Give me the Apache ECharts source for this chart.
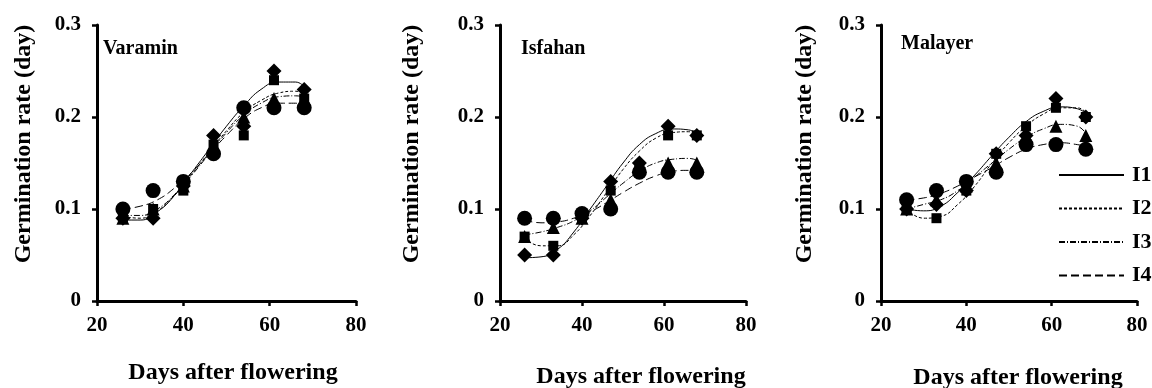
<!DOCTYPE html>
<html>
<head>
<meta charset="utf-8">
<script src="https://cdn.jsdelivr.net/npm/echarts@6/dist/echarts.min.js"></script>
<style>
  html, body { margin: 0; padding: 0; background: #fff; }
  #chart { width: 1152px; height: 388px; }
</style>
</head>
<body>
<div id="chart"></div>
<script>
// sampling days (x) for the measured points
const days = [26, 33, 40, 47, 54, 61, 68];
const fitDays = [26, 30, 34, 38, 42, 46, 50, 54, 58, 62, 66, 68];

const sites = ["Varamin", "Isfahan", "Malayer"];
const treatments = ["I1", "I2", "I3", "I4"];

// measured germination rate, Varamin
const varaminI1 = [0.09, 0.09, 0.125, 0.18, 0.19, 0.25, 0.23];
const varaminI2 = [0.09, 0.10, 0.12, 0.17, 0.18, 0.24, 0.22];
const varaminI3 = [0.09, 0.10, 0.125, 0.17, 0.20, 0.22, 0.22];
const varaminI4 = [0.10, 0.12, 0.13, 0.16, 0.21, 0.21, 0.21];
// measured, Isfahan
const isfahanI1 = [0.05, 0.05, 0.09, 0.13, 0.15, 0.19, 0.18];
const isfahanI2 = [0.07, 0.06, 0.09, 0.12, 0.145, 0.18, 0.18];
const isfahanI3 = [0.07, 0.08, 0.09, 0.11, 0.15, 0.15, 0.15];
const isfahanI4 = [0.09, 0.09, 0.095, 0.10, 0.14, 0.14, 0.14];
// measured, Malayer
const malayerI1 = [0.10, 0.105, 0.12, 0.16, 0.18, 0.22, 0.20];
const malayerI2 = [0.10, 0.09, 0.12, 0.16, 0.19, 0.21, 0.20];
const malayerI3 = [0.10, 0.11, 0.125, 0.15, 0.18, 0.19, 0.18];
const malayerI4 = [0.11, 0.12, 0.13, 0.14, 0.17, 0.17, 0.165];

// trend curves (at fitDays)
const varaminFitI1 = [0.088, 0.088, 0.097, 0.115, 0.14, 0.165, 0.19, 0.212, 0.23, 0.238, 0.238, 0.233];
const varaminFitI2 = [0.092, 0.09, 0.098, 0.115, 0.138, 0.162, 0.185, 0.205, 0.218, 0.226, 0.228, 0.227];
const varaminFitI3 = [0.093, 0.093, 0.10, 0.116, 0.137, 0.16, 0.183, 0.202, 0.215, 0.222, 0.223, 0.222];
const varaminFitI4 = [0.10, 0.103, 0.11, 0.123, 0.14, 0.16, 0.18, 0.198, 0.21, 0.215, 0.215, 0.213];
const isfahanFitI1 = [0.047, 0.048, 0.056, 0.075, 0.10, 0.125, 0.15, 0.17, 0.182, 0.187, 0.186, 0.182];
const isfahanFitI2 = [0.068, 0.06, 0.06, 0.072, 0.093, 0.118, 0.143, 0.163, 0.177, 0.183, 0.184, 0.181];
const isfahanFitI3 = [0.072, 0.075, 0.08, 0.087, 0.098, 0.113, 0.128, 0.141, 0.15, 0.154, 0.155, 0.153];
const isfahanFitI4 = [0.088, 0.085, 0.086, 0.09, 0.097, 0.107, 0.118, 0.128, 0.136, 0.141, 0.142, 0.142];
const malayerFitI1 = [0.10, 0.098, 0.103, 0.118, 0.137, 0.158, 0.178, 0.195, 0.206, 0.211, 0.209, 0.204];
const malayerFitI2 = [0.10, 0.09, 0.092, 0.105, 0.125, 0.15, 0.172, 0.19, 0.203, 0.21, 0.21, 0.205];
const malayerFitI3 = [0.10, 0.105, 0.11, 0.12, 0.135, 0.15, 0.165, 0.178, 0.187, 0.192, 0.19, 0.182];
const malayerFitI4 = [0.11, 0.112, 0.117, 0.125, 0.135, 0.145, 0.156, 0.165, 0.17, 0.172, 0.17, 0.168];

const xTicks = [20, 40, 60, 80];
const yTicks = [0, 0.1, 0.2, 0.3];

const measured = [
  [varaminI1, varaminI2, varaminI3, varaminI4],
  [isfahanI1, isfahanI2, isfahanI3, isfahanI4],
  [malayerI1, malayerI2, malayerI3, malayerI4]
];
const fitted = [
  [varaminFitI1, varaminFitI2, varaminFitI3, varaminFitI4],
  [isfahanFitI1, isfahanFitI2, isfahanFitI3, isfahanFitI4],
  [malayerFitI1, malayerFitI2, malayerFitI3, malayerFitI4]
];

const FONT = "Liberation Serif";
const symbols = ["diamond", "rect", "triangle", "circle"];
const symbolSizes = [15, 10, 13, 15];
const dashes = ["solid", [3, 2], [6, 2, 1, 2], [8, 4]];

// panel boxes in pixels
const grids = [
  { left: 97, width: 259, top: 25, height: 276 },
  { left: 500, width: 246, top: 25, height: 276 },
  { left: 881, width: 256, top: 25, height: 276 }
];
const xTitleX = [233, 641, 1018];
const xTitleY = [373, 377, 378];
const yTitleX = [24, 412, 805];
const siteLabelPos = [[103, 49], [521, 49], [901, 44]];

const axisLine = { lineStyle: { color: "#000", width: 3 } };
const axisTick = { lineStyle: { color: "#000", width: 2.5 }, length: 5 };
const tickLabel = { color: "#000", fontFamily: FONT, fontWeight: "bold", fontSize: 21 };

const xAxis = grids.map((g, i) => ({
  type: "value", gridIndex: i,
  min: xTicks[0], max: xTicks[xTicks.length - 1], interval: 20,
  axisLine, axisTick, splitLine: { show: false },
  axisLabel: Object.assign({ margin: 14 }, tickLabel)
}));
const yAxis = grids.map((g, i) => ({
  type: "value", gridIndex: i,
  min: yTicks[0], max: yTicks[yTicks.length - 1], interval: 0.1,
  axisLine, axisTick, splitLine: { show: false },
  axisLabel: Object.assign({ margin: 16, formatter: v => +v.toFixed(1) + "" }, tickLabel)
}));

const series = [];
sites.forEach((site, p) => {
  treatments.forEach((t, k) => {
    series.push({
      name: t, type: "line", xAxisIndex: p, yAxisIndex: p,
      data: fitDays.map((d, j) => [d, fitted[p][k][j]]),
      smooth: true, symbol: "none", silent: true, z: 2,
      lineStyle: { color: "#000", width: 1, type: dashes[k] },
      itemStyle: { color: "#000" }
    });
  });
  treatments.forEach((t, k) => {
    series.push({
      name: t + " data", type: "scatter", xAxisIndex: p, yAxisIndex: p,
      data: days.map((d, j) => [d, measured[p][k][j]]),
      symbol: symbols[k], symbolSize: symbolSizes[k], z: 3 + k,
      itemStyle: { color: "#000", opacity: 1 }
    });
  });
});

const graphic = [];
sites.forEach((site, p) => {
  graphic.push({
    type: "text", x: siteLabelPos[p][0], y: siteLabelPos[p][1],
    style: { text: site, fill: "#000", font: "bold 20px '" + FONT + "'",
      textAlign: "left", textVerticalAlign: "middle" }
  });
  graphic.push({
    type: "text", x: xTitleX[p], y: xTitleY[p],
    style: { text: "Days after flowering", fill: "#000", font: "bold 24px '" + FONT + "'",
      textAlign: "center", textVerticalAlign: "middle" }
  });
  graphic.push({
    type: "text", x: yTitleX[p], y: 144, rotation: Math.PI / 2,
    style: { text: "Germination rate (day)", fill: "#000", font: "bold 24px '" + FONT + "'",
      textAlign: "center", textVerticalAlign: "middle" }
  });
});

const chart = echarts.init(document.getElementById("chart"), null, { renderer: "canvas" });
chart.setOption({
  backgroundColor: "#fff",
  animation: false,
  grid: grids,
  xAxis, yAxis, series, graphic,
  legend: {
    data: treatments,
    orient: "vertical",
    left: 1058, top: 164, padding: 0,
    itemWidth: 65, itemHeight: 22, itemGap: 11.5,
    itemStyle: { opacity: 0 },
    textStyle: { color: "#000", fontFamily: FONT, fontWeight: "bold", fontSize: 22, padding: [0, 0, 0, 3] },
    selectedMode: false
  }
});
</script>
</body>
</html>
